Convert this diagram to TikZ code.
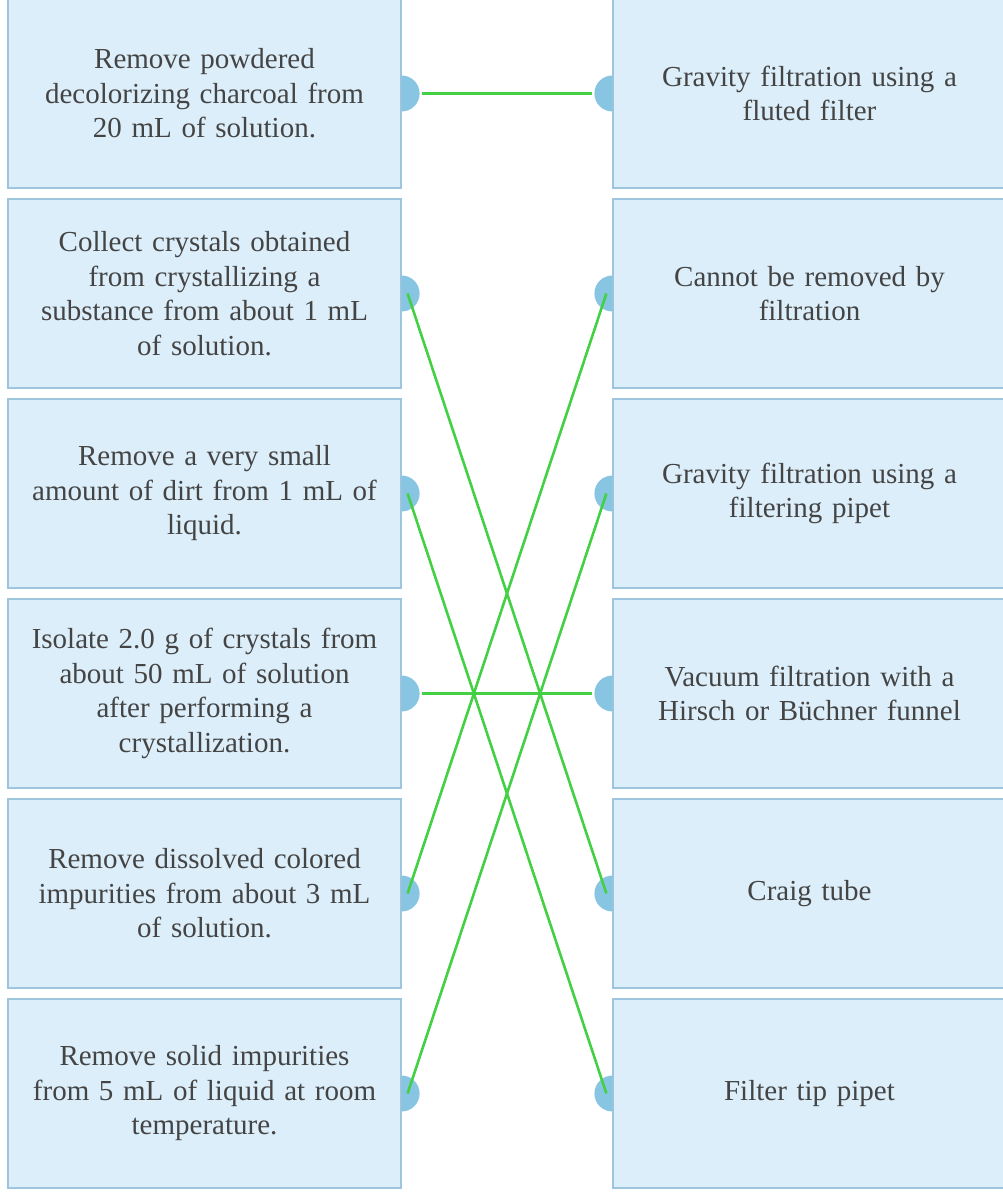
\documentclass[tikz,border=0pt]{standalone}
\usepackage{fontspec}
\setmainfont{Liberation Serif}
\definecolor{boxfill}{HTML}{DCEEFA}
\definecolor{boxline}{HTML}{9DC5DD}
\definecolor{knob}{HTML}{88C5E2}
\definecolor{wire}{HTML}{44D044}
\definecolor{txt}{HTML}{444444}
\begin{document}
\begin{tikzpicture}[x=1pt,y=-1pt,
  card/.style={draw=boxline,fill=boxfill,line width=1.2pt,minimum width=393pt,minimum height=189pt,inner sep=0pt,text=txt,
    align=center,text width=375pt,font=\fontsize{29}{34.5}\selectfont},
  wireline/.style={wire,line width=2.6pt}]
\useasboundingbox (0,0) rectangle (1003,1200);
\foreach \i/\t in {1/{Remove powdered\\decolorizing charcoal from\\20 mL of solution.},
 2/{Collect crystals obtained\\from crystallizing a\\substance from about 1 mL\\of solution.},
 3/{Remove a very small\\amount of dirt from 1 mL of\\liquid.},
 4/{Isolate 2.0 g of crystals from\\about 50 mL of solution\\after performing a\\crystallization.},
 5/{Remove dissolved colored\\impurities from about 3 mL\\of solution.},
 6/{Remove solid impurities\\from 5 mL of liquid at room\\temperature.}}{
 \node[card] (L\i) at (204.5,{93.5+200*(\i-1)}) {\t};
 \fill[knob] ([yshift=-18pt]L\i.east) arc[start angle=-90,end angle=90,radius=18pt] -- cycle;
 \coordinate (l\i) at ([xshift=6pt]L\i.east);
}
\foreach \i/\t in {1/{Gravity filtration using a\\fluted filter},
 2/{Cannot be removed by\\filtration},
 3/{Gravity filtration using a\\filtering pipet},
 4/{Vacuum filtration with a\\Hirsch or Büchner funnel},
 5/{Craig tube},
 6/{Filter tip pipet}}{
 \node[card] (R\i) at (809.5,{93.5+200*(\i-1)}) {\t};
 \fill[knob] ([yshift=-18pt]R\i.west) arc[start angle=-90,end angle=-270,radius=18pt] -- cycle;
 \coordinate (r\i) at ([xshift=-6pt]R\i.west);
}
\draw[wireline] ([xshift=20pt]L1.east) -- ([xshift=-20pt]R1.west);
\draw[wireline] ([xshift=20pt]L4.east) -- ([xshift=-20pt]R4.west);
\draw[wireline] (l2) -- (r5);
\draw[wireline] (l3) -- (r6);
\draw[wireline] (l5) -- (r2);
\draw[wireline] (l6) -- (r3);
\end{tikzpicture}
\end{document}
